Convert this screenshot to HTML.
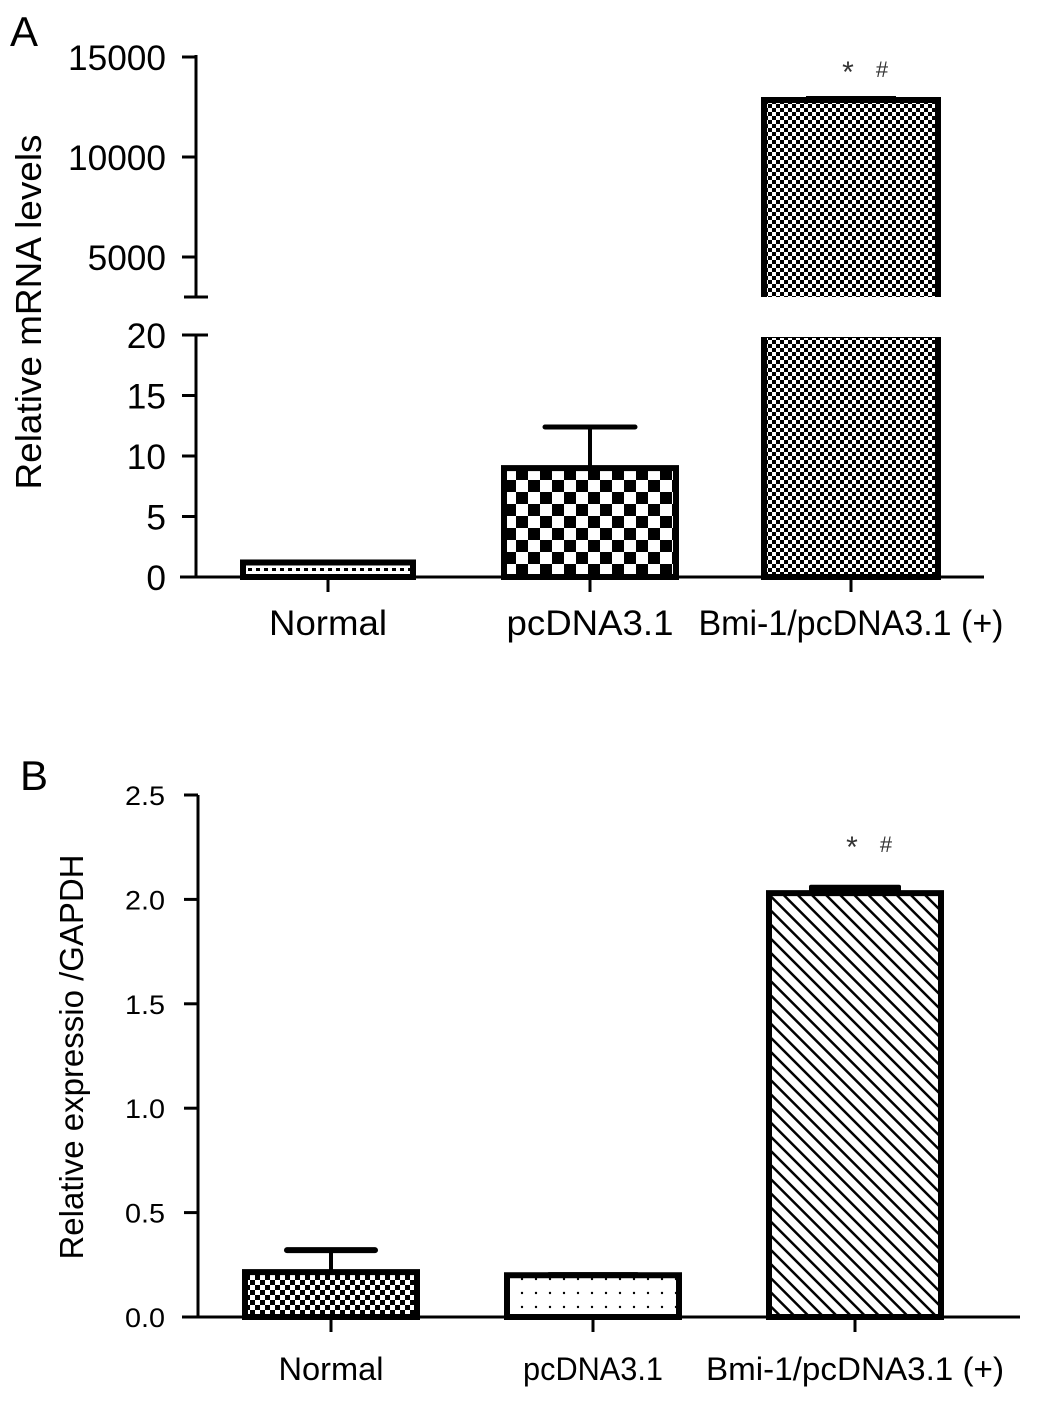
<!DOCTYPE html>
<html><head><meta charset="utf-8"><style>
html,body{margin:0;padding:0;background:#fff;}
svg{display:block;font-family:"Liberation Sans",sans-serif;}
</style></head><body>
<svg id="fig" width="1061" height="1417" viewBox="0 0 1061 1417">
<defs>
<pattern id="pDots" width="8" height="8" patternUnits="userSpaceOnUse"><rect width="8" height="8" fill="#fff"/><rect x="0" y="0" width="4" height="3" fill="#000"/></pattern>
<pattern id="pCheck" width="24" height="24" patternUnits="userSpaceOnUse"><rect width="24" height="24" fill="#fff"/><rect width="12" height="12" fill="#000"/><rect x="12" y="12" width="12" height="12" fill="#000"/></pattern>
<pattern id="pFine" width="8" height="8" patternUnits="userSpaceOnUse"><rect width="8" height="8" fill="#fff"/><rect width="4" height="4" fill="#000"/><rect x="4" y="4" width="4" height="4" fill="#000"/></pattern>
<pattern id="pFine2" width="10" height="10" patternUnits="userSpaceOnUse"><rect width="10" height="10" fill="#fff"/><rect width="5" height="5" fill="#000"/><rect x="5" y="5" width="5" height="5" fill="#000"/></pattern>
<pattern id="pSparse" width="14" height="14" patternUnits="userSpaceOnUse"><rect width="14" height="14" fill="#fff"/><circle cx="4" cy="5" r="1.2" fill="#000"/></pattern>
<pattern id="pHatch" width="10" height="10" patternUnits="userSpaceOnUse" patternTransform="rotate(-45)"><rect width="10" height="10" fill="#fff"/><rect x="0" y="0" width="2.5" height="10" fill="#000"/></pattern>
</defs>
<text x="10" y="46" font-size="42">A</text>
<text x="20" y="790" font-size="42">B</text>
<text transform="translate(41,312) rotate(-90)" text-anchor="middle" font-size="36" textLength="355" lengthAdjust="spacingAndGlyphs">Relative mRNA levels</text>
<text transform="translate(83,1057) rotate(-90)" text-anchor="middle" font-size="33" textLength="405" lengthAdjust="spacingAndGlyphs">Relative expressio /GAPDH</text>
<g id="A"></g>
<g id="B"></g>
</svg>
<script>
const NS="http://www.w3.org/2000/svg";
const categories=["Normal","pcDNA3.1","Bmi-1/pcDNA3.1 (+)"];
const aValues=[1.2,9,12850];
const aErrors=[0,3.4,200];
const aUpperTicks=[5000,10000,15000];
const aLowerTicks=[0,5,10,15,20];
const bValues=[0.215,0.2,2.03];
const bErrors=[0.105,0.015,0.04];
const bTicks=[0,0.5,1.0,1.5,2.0,2.5];
const bTickLabels=["0.0","0.5","1.0","1.5","2.0","2.5"];

function mk(tag,attrs,parent,txt){const e=document.createElementNS(NS,tag);for(const k in attrs)e.setAttribute(k,attrs[k]);if(txt!==undefined)e.textContent=txt;parent.appendChild(e);return e;}

const yLow=v=>577-v*12.1;
const yUp=v=>257-(v-5000)*0.02;
const upBottom=297, lowTop=335;
const A=document.getElementById('A');
const aCenters=[328,590,851], aHalf=[88,89,90];
const aFills=["url(#pDots)","url(#pCheck)","url(#pFine)"];
const aLabelLen=[118,167,305];
mk('line',{x1:196,y1:55,x2:196,y2:upBottom,stroke:'#000','stroke-width':3},A);
mk('line',{x1:184,y1:upBottom,x2:208,y2:upBottom,stroke:'#000','stroke-width':3},A);
mk('line',{x1:196,y1:lowTop,x2:196,y2:577,stroke:'#000','stroke-width':3},A);
mk('line',{x1:184,y1:lowTop,x2:208,y2:lowTop,stroke:'#000','stroke-width':3},A);
mk('line',{x1:180,y1:577,x2:984,y2:577,stroke:'#000','stroke-width':3},A);
function tickLabel(parent,x,y,txt,size,len,name){
 const tx=mk('text',{x:x,y:y,'text-anchor':'end','font-size':size,textLength:len,lengthAdjust:'spacingAndGlyphs'},parent,txt);
 
 
}
aUpperTicks.forEach(t=>{
 const l=mk('line',{x1:182,y1:yUp(t),x2:196,y2:yUp(t),stroke:'#000','stroke-width':3},A);
 
 
 const s=String(t);
 tickLabel(A,166,yUp(t)+13,s,35,s.length*19.6,'a-y-tick-label');
});
aLowerTicks.forEach(t=>{
 mk('line',{x1:182,y1:yLow(t),x2:196,y2:yLow(t),stroke:'#000','stroke-width':3},A);
 const s=String(t);
 tickLabel(A,166,yLow(t)+13,s,35,s.length*19.6,'a-y-tick-label');
});
categories.forEach((c,i)=>{
 const cx=aCenters[i],h=aHalf[i],v=aValues[i],e=aErrors[i];
 if(v>20){
  const r1=mk('rect',{x:cx-h+3,y:lowTop,width:2*h-6,height:577-lowTop,fill:aFills[i],stroke:'#000','stroke-width':6},A);
  
  
  mk('rect',{x:cx-h,y:lowTop-4,width:2*h,height:6,fill:'#fff'},A);
  const r2=mk('rect',{x:cx-h+3,y:yUp(v),width:2*h-6,height:upBottom-yUp(v)+3,fill:aFills[i],stroke:'#000','stroke-width':6},A);
  
  
  mk('rect',{x:cx-h,y:upBottom,width:2*h,height:6,fill:'#fff'},A);
  mk('rect',{x:cx-45,y:yUp(v+e),width:90,height:yUp(v)-yUp(v+e),fill:'#000'},A);
  const s1=mk('text',{x:cx-3,y:yUp(v+e)-14,'text-anchor':'middle','font-size':30,fill:'#333'},A,'*');
  
  
  const s2=mk('text',{x:cx+31,y:yUp(v+e)-19,'text-anchor':'middle','font-size':22,fill:'#333'},A,'#');
  
  
 } else {
  if(e>0){
   mk('line',{x1:cx,y1:yLow(v),x2:cx,y2:yLow(v+e),stroke:'#000','stroke-width':4},A);
   mk('line',{x1:cx-45,y1:yLow(v+e),x2:cx+45,y2:yLow(v+e),stroke:'#000','stroke-width':5,'stroke-linecap':'round'},A);
  }
  const r=mk('rect',{x:cx-h+3,y:yLow(v),width:2*h-6,height:577-yLow(v),fill:aFills[i],stroke:'#000','stroke-width':6},A);
  
  
 }
 mk('line',{x1:cx,y1:577,x2:cx,y2:592,stroke:'#000','stroke-width':3},A);
 const t=mk('text',{x:cx,y:635,'text-anchor':'middle','font-size':35,textLength:aLabelLen[i],lengthAdjust:'spacingAndGlyphs'},A,c);
 
 
});

const yB=v=>1317-v*208.8;
const B=document.getElementById('B');
const bCenters=[331,593,855], bHalf=[89,89,89];
const bFills=["url(#pFine2)","url(#pSparse)","url(#pHatch)"];
const bLabelLen=[105,140,298];
mk('line',{x1:198,y1:yB(2.5),x2:198,y2:1317,stroke:'#000','stroke-width':3},B);
mk('line',{x1:182,y1:1317,x2:1020,y2:1317,stroke:'#000','stroke-width':3},B);
bTicks.forEach((t,i)=>{
 mk('line',{x1:184,y1:yB(t),x2:198,y2:yB(t),stroke:'#000','stroke-width':3},B);
 tickLabel(B,165,yB(t)+10,bTickLabels[i],27,40,'b-y-tick-label');
});
categories.forEach((c,i)=>{
 const cx=bCenters[i],h=bHalf[i],v=bValues[i],e=bErrors[i];
 if(e>0.05){
  mk('line',{x1:cx,y1:yB(v),x2:cx,y2:yB(v+e),stroke:'#000','stroke-width':4},B);
  mk('line',{x1:cx-44,y1:yB(v+e),x2:cx+44,y2:yB(v+e),stroke:'#000','stroke-width':6,'stroke-linecap':'round'},B);
 } else {
  mk('rect',{x:cx-46,y:yB(v+e),width:92,height:yB(v)-yB(v+e)+2,fill:'#000',rx:2},B);
 }
 const r=mk('rect',{x:cx-h+3,y:yB(v),width:2*h-6,height:1317-yB(v),fill:bFills[i],stroke:'#000','stroke-width':6},B);
 
 
 mk('line',{x1:cx,y1:1317,x2:cx,y2:1332,stroke:'#000','stroke-width':3},B);
 const t=mk('text',{x:cx,y:1380,'text-anchor':'middle','font-size':32,textLength:bLabelLen[i],lengthAdjust:'spacingAndGlyphs'},B,c);
 
 
 if(i===2){
  const s1=mk('text',{x:cx-3,y:yB(v+e)-28,'text-anchor':'middle','font-size':30,fill:'#333'},B,'*');
  
  
  const s2=mk('text',{x:cx+31,y:yB(v+e)-33,'text-anchor':'middle','font-size':22,fill:'#333'},B,'#');
  
  
 }
});
</script>
</body></html>
